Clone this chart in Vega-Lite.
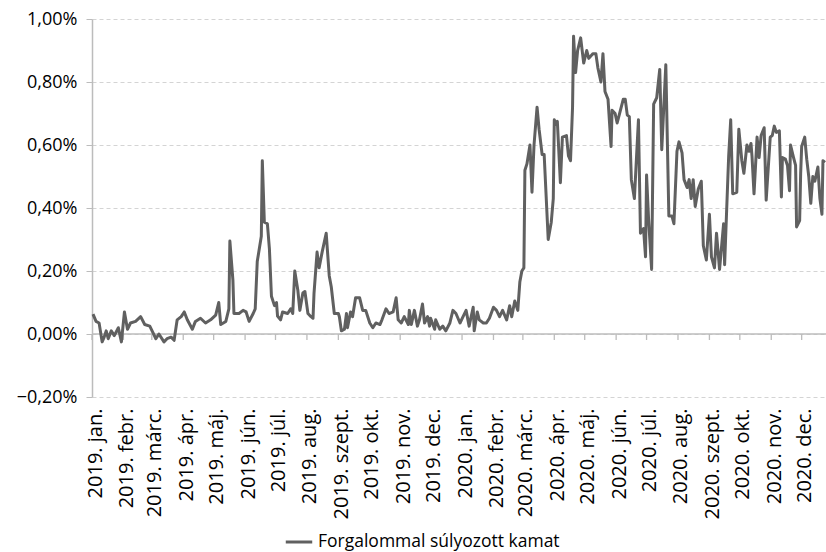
{
  "$schema": "https://vega.github.io/schema/vega-lite/v6.json",
  "width": 734,
  "height": 378,
  "autosize": {"type": "none"},
  "padding": {"left": 92, "top": 19, "right": 0, "bottom": 155},
  "background": "white",
  "config": {
    "font": "Open Sans",
    "view": {"stroke": null},
    "axis": {"labelFont": "Open Sans", "labelColor": "#000000"}
  },
  "datasets": {
    "honapok": [
      {"honap": "2019/01/01"}, {"honap": "2019/02/01"}, {"honap": "2019/03/01"}, {"honap": "2019/04/01"},
      {"honap": "2019/05/01"}, {"honap": "2019/06/01"}, {"honap": "2019/07/01"}, {"honap": "2019/08/01"},
      {"honap": "2019/09/01"}, {"honap": "2019/10/01"}, {"honap": "2019/11/01"}, {"honap": "2019/12/01"},
      {"honap": "2020/01/01"}, {"honap": "2020/02/01"}, {"honap": "2020/03/01"}, {"honap": "2020/04/01"},
      {"honap": "2020/05/01"}, {"honap": "2020/06/01"}, {"honap": "2020/07/01"}, {"honap": "2020/08/01"},
      {"honap": "2020/09/01"}, {"honap": "2020/10/01"}, {"honap": "2020/11/01"}, {"honap": "2020/12/01"}
    ],
    "kamat": [
      {"nap": "2019/01/02", "kamat": 0.063}, {"nap": "2019/01/05", "kamat": 0.04}, {"nap": "2019/01/08", "kamat": 0.035},
      {"nap": "2019/01/11", "kamat": -0.025}, {"nap": "2019/01/13", "kamat": -0.01}, {"nap": "2019/01/15", "kamat": 0.01},
      {"nap": "2019/01/17", "kamat": -0.015}, {"nap": "2019/01/20", "kamat": 0.01}, {"nap": "2019/01/23", "kamat": -0.005},
      {"nap": "2019/01/27", "kamat": 0.02}, {"nap": "2019/01/30", "kamat": -0.025}, {"nap": "2019/02/02", "kamat": 0.07},
      {"nap": "2019/02/05", "kamat": 0.015}, {"nap": "2019/02/08", "kamat": 0.035}, {"nap": "2019/02/13", "kamat": 0.04},
      {"nap": "2019/02/18", "kamat": 0.055}, {"nap": "2019/02/22", "kamat": 0.03}, {"nap": "2019/02/27", "kamat": 0.025},
      {"nap": "2019/03/02", "kamat": 0.005}, {"nap": "2019/03/05", "kamat": -0.015}, {"nap": "2019/03/08", "kamat": 0.0},
      {"nap": "2019/03/13", "kamat": -0.025}, {"nap": "2019/03/16", "kamat": -0.015}, {"nap": "2019/03/20", "kamat": -0.01},
      {"nap": "2019/03/23", "kamat": -0.02}, {"nap": "2019/03/26", "kamat": 0.045}, {"nap": "2019/03/30", "kamat": 0.055},
      {"nap": "2019/04/02", "kamat": 0.07}, {"nap": "2019/04/05", "kamat": 0.045}, {"nap": "2019/04/10", "kamat": 0.015},
      {"nap": "2019/04/13", "kamat": 0.04}, {"nap": "2019/04/18", "kamat": 0.05}, {"nap": "2019/04/23", "kamat": 0.035},
      {"nap": "2019/04/28", "kamat": 0.045}, {"nap": "2019/05/03", "kamat": 0.06}, {"nap": "2019/05/06", "kamat": 0.10},
      {"nap": "2019/05/08", "kamat": 0.03}, {"nap": "2019/05/13", "kamat": 0.04}, {"nap": "2019/05/16", "kamat": 0.08},
      {"nap": "2019/05/17", "kamat": 0.295}, {"nap": "2019/05/20", "kamat": 0.17}, {"nap": "2019/05/21", "kamat": 0.065},
      {"nap": "2019/05/26", "kamat": 0.065}, {"nap": "2019/05/30", "kamat": 0.075}, {"nap": "2019/06/02", "kamat": 0.07},
      {"nap": "2019/06/05", "kamat": 0.04}, {"nap": "2019/06/09", "kamat": 0.065}, {"nap": "2019/06/11", "kamat": 0.08},
      {"nap": "2019/06/13", "kamat": 0.23}, {"nap": "2019/06/17", "kamat": 0.31}, {"nap": "2019/06/18", "kamat": 0.55},
      {"nap": "2019/06/20", "kamat": 0.355}, {"nap": "2019/06/23", "kamat": 0.35}, {"nap": "2019/06/25", "kamat": 0.27},
      {"nap": "2019/06/27", "kamat": 0.12}, {"nap": "2019/06/30", "kamat": 0.09}, {"nap": "2019/07/02", "kamat": 0.10},
      {"nap": "2019/07/03", "kamat": 0.057}, {"nap": "2019/07/06", "kamat": 0.045}, {"nap": "2019/07/08", "kamat": 0.07},
      {"nap": "2019/07/13", "kamat": 0.065}, {"nap": "2019/07/16", "kamat": 0.08}, {"nap": "2019/07/18", "kamat": 0.065},
      {"nap": "2019/07/20", "kamat": 0.20}, {"nap": "2019/07/23", "kamat": 0.14}, {"nap": "2019/07/25", "kamat": 0.075},
      {"nap": "2019/07/28", "kamat": 0.13}, {"nap": "2019/07/30", "kamat": 0.135}, {"nap": "2019/08/02", "kamat": 0.065},
      {"nap": "2019/08/05", "kamat": 0.055}, {"nap": "2019/08/07", "kamat": 0.05}, {"nap": "2019/08/08", "kamat": 0.13},
      {"nap": "2019/08/11", "kamat": 0.26}, {"nap": "2019/08/13", "kamat": 0.21}, {"nap": "2019/08/16", "kamat": 0.26},
      {"nap": "2019/08/20", "kamat": 0.32}, {"nap": "2019/08/23", "kamat": 0.185}, {"nap": "2019/08/25", "kamat": 0.15},
      {"nap": "2019/08/28", "kamat": 0.065}, {"nap": "2019/09/01", "kamat": 0.065}, {"nap": "2019/09/02", "kamat": 0.055},
      {"nap": "2019/09/04", "kamat": 0.01}, {"nap": "2019/09/07", "kamat": 0.015}, {"nap": "2019/09/09", "kamat": 0.065},
      {"nap": "2019/09/10", "kamat": 0.02}, {"nap": "2019/09/13", "kamat": 0.07}, {"nap": "2019/09/15", "kamat": 0.055},
      {"nap": "2019/09/18", "kamat": 0.115}, {"nap": "2019/09/22", "kamat": 0.115}, {"nap": "2019/09/25", "kamat": 0.075},
      {"nap": "2019/09/28", "kamat": 0.075}, {"nap": "2019/10/02", "kamat": 0.035}, {"nap": "2019/10/05", "kamat": 0.02},
      {"nap": "2019/10/08", "kamat": 0.035}, {"nap": "2019/10/12", "kamat": 0.03}, {"nap": "2019/10/14", "kamat": 0.045},
      {"nap": "2019/10/18", "kamat": 0.08}, {"nap": "2019/10/21", "kamat": 0.065}, {"nap": "2019/10/25", "kamat": 0.07},
      {"nap": "2019/10/28", "kamat": 0.115}, {"nap": "2019/10/30", "kamat": 0.045}, {"nap": "2019/11/02", "kamat": 0.035},
      {"nap": "2019/11/05", "kamat": 0.055}, {"nap": "2019/11/09", "kamat": 0.03}, {"nap": "2019/11/10", "kamat": 0.075},
      {"nap": "2019/11/12", "kamat": 0.03}, {"nap": "2019/11/15", "kamat": 0.075}, {"nap": "2019/11/18", "kamat": 0.025},
      {"nap": "2019/11/20", "kamat": 0.045}, {"nap": "2019/11/23", "kamat": 0.095}, {"nap": "2019/11/25", "kamat": 0.035},
      {"nap": "2019/11/28", "kamat": 0.055}, {"nap": "2019/11/30", "kamat": 0.025}, {"nap": "2019/12/01", "kamat": 0.05},
      {"nap": "2019/12/05", "kamat": 0.015}, {"nap": "2019/12/06", "kamat": 0.045}, {"nap": "2019/12/10", "kamat": 0.015},
      {"nap": "2019/12/13", "kamat": 0.025}, {"nap": "2019/12/16", "kamat": 0.01}, {"nap": "2019/12/20", "kamat": 0.035},
      {"nap": "2019/12/23", "kamat": 0.075}, {"nap": "2019/12/26", "kamat": 0.065}, {"nap": "2019/12/30", "kamat": 0.035},
      {"nap": "2020/01/02", "kamat": 0.055}, {"nap": "2020/01/05", "kamat": 0.075}, {"nap": "2020/01/08", "kamat": 0.025},
      {"nap": "2020/01/12", "kamat": 0.085}, {"nap": "2020/01/13", "kamat": 0.01}, {"nap": "2020/01/16", "kamat": 0.07},
      {"nap": "2020/01/18", "kamat": 0.045}, {"nap": "2020/01/22", "kamat": 0.035}, {"nap": "2020/01/25", "kamat": 0.035},
      {"nap": "2020/01/28", "kamat": 0.05}, {"nap": "2020/02/01", "kamat": 0.085}, {"nap": "2020/02/04", "kamat": 0.075},
      {"nap": "2020/02/07", "kamat": 0.055}, {"nap": "2020/02/10", "kamat": 0.075}, {"nap": "2020/02/14", "kamat": 0.045},
      {"nap": "2020/02/17", "kamat": 0.09}, {"nap": "2020/02/19", "kamat": 0.055}, {"nap": "2020/02/22", "kamat": 0.105},
      {"nap": "2020/02/25", "kamat": 0.075}, {"nap": "2020/02/27", "kamat": 0.165}, {"nap": "2020/02/29", "kamat": 0.20},
      {"nap": "2020/03/02", "kamat": 0.21}, {"nap": "2020/03/03", "kamat": 0.52}, {"nap": "2020/03/05", "kamat": 0.54},
      {"nap": "2020/03/08", "kamat": 0.60}, {"nap": "2020/03/10", "kamat": 0.45}, {"nap": "2020/03/12", "kamat": 0.60},
      {"nap": "2020/03/15", "kamat": 0.72}, {"nap": "2020/03/17", "kamat": 0.65}, {"nap": "2020/03/20", "kamat": 0.57},
      {"nap": "2020/03/22", "kamat": 0.57}, {"nap": "2020/03/26", "kamat": 0.30}, {"nap": "2020/03/29", "kamat": 0.355},
      {"nap": "2020/03/31", "kamat": 0.43}, {"nap": "2020/04/01", "kamat": 0.68}, {"nap": "2020/04/03", "kamat": 0.665},
      {"nap": "2020/04/04", "kamat": 0.675}, {"nap": "2020/04/07", "kamat": 0.48}, {"nap": "2020/04/09", "kamat": 0.625},
      {"nap": "2020/04/13", "kamat": 0.63}, {"nap": "2020/04/15", "kamat": 0.565}, {"nap": "2020/04/17", "kamat": 0.55},
      {"nap": "2020/04/19", "kamat": 0.72}, {"nap": "2020/04/20", "kamat": 0.945}, {"nap": "2020/04/22", "kamat": 0.83},
      {"nap": "2020/04/24", "kamat": 0.90}, {"nap": "2020/04/27", "kamat": 0.94}, {"nap": "2020/04/30", "kamat": 0.86},
      {"nap": "2020/05/03", "kamat": 0.90}, {"nap": "2020/05/05", "kamat": 0.875}, {"nap": "2020/05/09", "kamat": 0.89},
      {"nap": "2020/05/12", "kamat": 0.89}, {"nap": "2020/05/14", "kamat": 0.845}, {"nap": "2020/05/17", "kamat": 0.80},
      {"nap": "2020/05/19", "kamat": 0.89}, {"nap": "2020/05/21", "kamat": 0.77}, {"nap": "2020/05/24", "kamat": 0.745},
      {"nap": "2020/05/27", "kamat": 0.595}, {"nap": "2020/05/28", "kamat": 0.71}, {"nap": "2020/05/31", "kamat": 0.70},
      {"nap": "2020/06/02", "kamat": 0.67}, {"nap": "2020/06/04", "kamat": 0.695}, {"nap": "2020/06/08", "kamat": 0.745},
      {"nap": "2020/06/10", "kamat": 0.745}, {"nap": "2020/06/12", "kamat": 0.695}, {"nap": "2020/06/14", "kamat": 0.69},
      {"nap": "2020/06/16", "kamat": 0.49}, {"nap": "2020/06/19", "kamat": 0.43}, {"nap": "2020/06/21", "kamat": 0.555},
      {"nap": "2020/06/23", "kamat": 0.68}, {"nap": "2020/06/25", "kamat": 0.32}, {"nap": "2020/06/28", "kamat": 0.335},
      {"nap": "2020/06/30", "kamat": 0.245}, {"nap": "2020/07/01", "kamat": 0.505}, {"nap": "2020/07/03", "kamat": 0.365},
      {"nap": "2020/07/06", "kamat": 0.205}, {"nap": "2020/07/08", "kamat": 0.73}, {"nap": "2020/07/11", "kamat": 0.75},
      {"nap": "2020/07/14", "kamat": 0.84}, {"nap": "2020/07/16", "kamat": 0.585}, {"nap": "2020/07/20", "kamat": 0.855},
      {"nap": "2020/07/23", "kamat": 0.375}, {"nap": "2020/07/26", "kamat": 0.375}, {"nap": "2020/07/28", "kamat": 0.35},
      {"nap": "2020/07/31", "kamat": 0.58}, {"nap": "2020/08/02", "kamat": 0.61}, {"nap": "2020/08/05", "kamat": 0.575},
      {"nap": "2020/08/07", "kamat": 0.49}, {"nap": "2020/08/10", "kamat": 0.465}, {"nap": "2020/08/12", "kamat": 0.49},
      {"nap": "2020/08/14", "kamat": 0.43}, {"nap": "2020/08/16", "kamat": 0.49}, {"nap": "2020/08/18", "kamat": 0.405},
      {"nap": "2020/08/21", "kamat": 0.46}, {"nap": "2020/08/24", "kamat": 0.485}, {"nap": "2020/08/26", "kamat": 0.28},
      {"nap": "2020/08/29", "kamat": 0.235}, {"nap": "2020/09/01", "kamat": 0.38}, {"nap": "2020/09/03", "kamat": 0.245},
      {"nap": "2020/09/06", "kamat": 0.21}, {"nap": "2020/09/08", "kamat": 0.32}, {"nap": "2020/09/11", "kamat": 0.205},
      {"nap": "2020/09/15", "kamat": 0.35}, {"nap": "2020/09/16", "kamat": 0.22}, {"nap": "2020/09/20", "kamat": 0.565},
      {"nap": "2020/09/22", "kamat": 0.68}, {"nap": "2020/09/24", "kamat": 0.445}, {"nap": "2020/09/28", "kamat": 0.45},
      {"nap": "2020/09/30", "kamat": 0.65}, {"nap": "2020/10/03", "kamat": 0.55}, {"nap": "2020/10/05", "kamat": 0.51},
      {"nap": "2020/10/08", "kamat": 0.60}, {"nap": "2020/10/10", "kamat": 0.58}, {"nap": "2020/10/12", "kamat": 0.605},
      {"nap": "2020/10/13", "kamat": 0.565}, {"nap": "2020/10/15", "kamat": 0.445}, {"nap": "2020/10/18", "kamat": 0.625},
      {"nap": "2020/10/20", "kamat": 0.56}, {"nap": "2020/10/22", "kamat": 0.63}, {"nap": "2020/10/25", "kamat": 0.655},
      {"nap": "2020/10/27", "kamat": 0.425}, {"nap": "2020/10/31", "kamat": 0.625}, {"nap": "2020/11/02", "kamat": 0.63},
      {"nap": "2020/11/04", "kamat": 0.66}, {"nap": "2020/11/06", "kamat": 0.64}, {"nap": "2020/11/09", "kamat": 0.645},
      {"nap": "2020/11/11", "kamat": 0.435}, {"nap": "2020/11/12", "kamat": 0.56}, {"nap": "2020/11/15", "kamat": 0.555},
      {"nap": "2020/11/17", "kamat": 0.535}, {"nap": "2020/11/19", "kamat": 0.455}, {"nap": "2020/11/20", "kamat": 0.60},
      {"nap": "2020/11/23", "kamat": 0.56}, {"nap": "2020/11/25", "kamat": 0.535}, {"nap": "2020/11/26", "kamat": 0.34},
      {"nap": "2020/11/29", "kamat": 0.36}, {"nap": "2020/11/30", "kamat": 0.51}, {"nap": "2020/12/01", "kamat": 0.595},
      {"nap": "2020/12/04", "kamat": 0.625}, {"nap": "2020/12/06", "kamat": 0.555}, {"nap": "2020/12/08", "kamat": 0.50},
      {"nap": "2020/12/10", "kamat": 0.415}, {"nap": "2020/12/12", "kamat": 0.50}, {"nap": "2020/12/14", "kamat": 0.485},
      {"nap": "2020/12/17", "kamat": 0.53}, {"nap": "2020/12/19", "kamat": 0.43}, {"nap": "2020/12/21", "kamat": 0.38},
      {"nap": "2020/12/22", "kamat": 0.55}, {"nap": "2020/12/24", "kamat": 0.545}
    ]
  },
  "layer": [
    {
      "data": {"values": [{"nulla": 0}]},
      "mark": {"type": "rule", "color": "#bcbcbc", "strokeWidth": 1.5},
      "encoding": {
        "y": {
          "field": "nulla", "type": "quantitative", "title": null,
          "scale": {"domain": [-0.2, 1.0], "nice": false, "zero": false},
          "axis": {
            "values": [-0.2, 0, 0.2, 0.4, 0.6, 0.8, 1.0],
            "labelExpr": "replace(format(datum.value, '.2f'), '.', ',') + '%'",
            "labelFontSize": 18,
            "labelPadding": 9,
            "tickSize": 6,
            "tickColor": "#bcbcbc",
            "domainColor": "#bcbcbc",
            "domainWidth": 1.5,
            "gridColor": "#d4d4d4",
            "gridDash": [4, 3],
            "gridWidth": 1
          }
        }
      }
    },
    {
      "data": {"name": "honapok"},
      "mark": {"type": "rule", "color": "#bcbcbc", "strokeWidth": 1.3},
      "encoding": {
        "x": {
          "field": "honap", "type": "temporal", "title": null,
          "scale": {"domain": [{"year": 2019, "month": 1, "date": 1}, {"year": 2020, "month": 12, "date": 25}], "nice": false},
          "axis": {
            "tickCount": {"interval": "month", "step": 1},
            "labelExpr": "year(datum.value) + '. ' + ['jan.','febr.','márc.','ápr.','máj.','jún.','júl.','aug.','szept.','okt.','nov.','dec.'][month(datum.value)]",
            "labelAngle": -90,
            "labelAlign": "right",
            "labelBaseline": "middle",
            "labelFontSize": 20,
            "labelOffset": 3,
            "labelPadding": 11,
            "labelOverlap": false,
            "labelFlush": false,
            "labelBound": false,
            "ticks": false,
            "domain": false,
            "grid": false
          }
        },
        "y": {"datum": 0, "type": "quantitative", "title": null, "scale": {"domain": [-0.2, 1.0], "nice": false, "zero": false}},
        "y2": {"datum": -0.019}
      }
    },
    {
      "data": {"name": "kamat"},
      "mark": {"type": "line", "strokeWidth": 3, "strokeJoin": "round"},
      "encoding": {
        "x": {
          "field": "nap", "type": "temporal", "title": null,
          "scale": {"domain": [{"year": 2019, "month": 1, "date": 1}, {"year": 2020, "month": 12, "date": 25}], "nice": false}
        },
        "y": {
          "field": "kamat", "type": "quantitative", "title": null,
          "scale": {"domain": [-0.2, 1.0], "nice": false, "zero": false}
        },
        "color": {
          "datum": "Forgalommal súlyozott kamat",
          "type": "nominal",
          "scale": {"range": ["#606060"]},
          "legend": {
            "title": null,
            "orient": "none",
            "legendX": 192,
            "legendY": 508,
            "direction": "horizontal",
            "symbolType": "stroke",
            "symbolStrokeWidth": 3,
            "symbolSize": 700,
            "labelFontSize": 17.5,
            "labelLimit": 500,
            "labelColor": "#000000",
            "labelFont": "Open Sans",
            "labelOffset": 4
          }
        }
      }
    }
  ]
}
